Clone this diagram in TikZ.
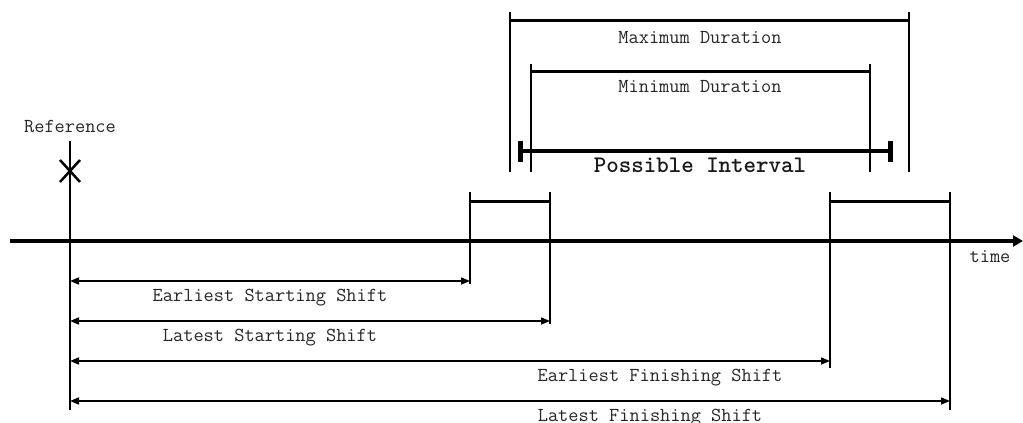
\documentclass[tikz,border=0pt]{standalone}
\usepackage{fontspec}
\usetikzlibrary{arrows.meta}
\begin{document}
\begin{tikzpicture}[x=1pt,y=-1pt,
  thin line/.style={line width=1.5pt},
  bar line/.style={line width=3pt},
  axis line/.style={line width=4.5pt},
  shiftarrow/.style={line width=1.5pt,{Triangle[length=9pt,width=7pt]}-{Triangle[length=9pt,width=7pt]}},
  lbl/.style={font=\ttfamily\fontsize{19.8}{22}\selectfont,text=black!85,anchor=base,inner sep=0pt},
  blbl/.style={font=\ttfamily\bfseries\fontsize{23.8}{26}\selectfont,text=black!90,anchor=base,inner sep=0pt}]
\useasboundingbox (0,0) rectangle (1023,423);
% coordinates
\coordinate (axL) at (10,241);
\coordinate (axR) at (1023,241);
\coordinate (refT) at (70,141);
\coordinate (refB) at (70,410);
\coordinate (esT) at (470,192); \coordinate (esB) at (470,284);
\coordinate (lsT) at (550,192); \coordinate (lsB) at (550,324);
\coordinate (efT) at (830,192); \coordinate (efB) at (830,368);
\coordinate (lfT) at (950,192); \coordinate (lfB) at (950,410);
\coordinate (mxL) at (510,12); \coordinate (mxLb) at (510,172);
\coordinate (mxR) at (909,12); \coordinate (mxRb) at (909,172);
\coordinate (mnL) at (531,64); \coordinate (mnLb) at (531,172);
\coordinate (mnR) at (870,64); \coordinate (mnRb) at (870,172);
% time axis
\draw[axis line,-{Triangle[length=10pt,width=11pt]}] (axL) -- (axR);
% reference
\draw[thin line] (refT) -- (refB);
\draw[line width=2.5pt] (60,160) -- (80,182) (60,182) -- (80,160);
\node[lbl] (reftxt) at (70,132) {Reference};
% start window
\draw[thin line] (esT) -- (esB);
\draw[thin line] (lsT) -- (lsB);
\draw[bar line] (470,201) -- (550,201);
% finish window
\draw[thin line] (efT) -- (efB);
\draw[thin line] (lfT) -- (lfB);
\draw[bar line] (830,201) -- (950,201);
% maximum duration
\draw[thin line] (mxL) -- (mxLb);
\draw[thin line] (mxR) -- (mxRb);
\draw[bar line] (510,20) -- (909,20);
\node[lbl] (mxtxt) at (700,43) {Maximum Duration};
% minimum duration
\draw[thin line] (mnL) -- (mnLb);
\draw[thin line] (mnR) -- (mnRb);
\draw[bar line] (531,71) -- (870,71);
\node[lbl] (mntxt) at (700,92) {Minimum Duration};
% possible interval
\draw[line width=4.5pt] (520,151) -- (890,151);
\draw[line width=5pt] (520,141) -- (520,162) (890,141) -- (890,162);
\node[blbl] (pitxt) at (700,172) {Possible Interval};
% shifts
\draw[shiftarrow] (70,281) -- (esB |- 0,281);
\node[lbl] (estxt) at (270,301) {Earliest Starting Shift};
\draw[shiftarrow] (70,321) -- (lsB |- 0,321);
\node[lbl] (lstxt) at (270,341) {Latest Starting Shift};
\draw[shiftarrow] (70,361) -- (efB |- 0,361);
\node[lbl] (eftxt) at (660,381) {Earliest Finishing Shift};
\draw[shiftarrow] (70,401) -- (lfB |- 0,401);
\node[lbl] (lftxt) at (650,421) {Latest Finishing Shift};
\node[lbl] (timetxt) at (990,262) {time};
\end{tikzpicture}
\end{document}
